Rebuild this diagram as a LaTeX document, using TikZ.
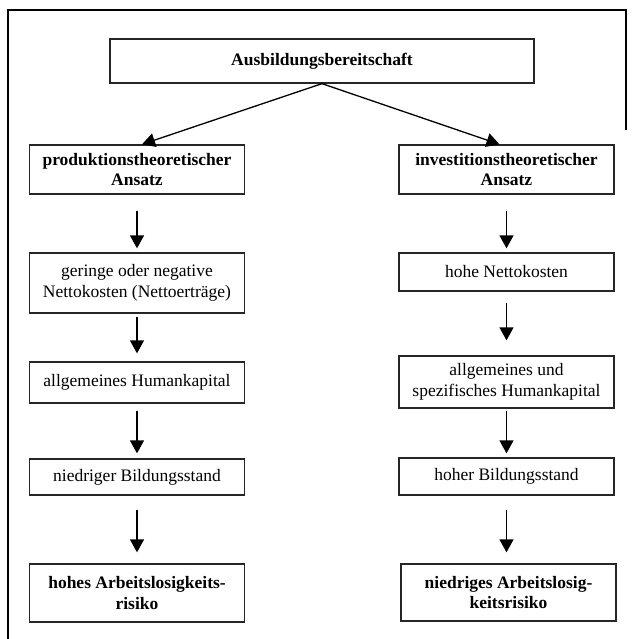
\documentclass[tikz,border=0pt]{standalone}
\usepackage{fontspec}
\setmainfont{Liberation Serif}
\usetikzlibrary{arrows.meta}
\begin{document}
\begin{tikzpicture}[x=1pt,y=-1pt,
  box/.style={draw=black!85, line width=1.3pt, minimum width=215pt, inner sep=0pt, align=center,
    font=\fontsize{17.5}{20.5}\selectfont},
  bbox/.style={box, font=\fontsize{17.5}{20.5}\selectfont\bfseries},
  arr/.style={line width=1.3pt, -{Triangle[length=13pt,width=14pt]}},
  frameline/.style={line width=1.5pt}]
\useasboundingbox (0,0) rectangle (634,639);
\draw[frameline] (8,645) -- (8,10) -- (626,10) -- (626,130);
\node[bbox, minimum width=424pt, minimum height=44pt] (top) at (322,61) {Ausbildungsbereitschaft};
% left column
\node[bbox, minimum height=49pt] (L1) at (137,169.5) {produktionstheoretischer\\Ansatz};
\node[box, minimum height=60pt] (L2) at (137,283) {geringe oder negative\\Nettokosten (Nettoerträge)};
\node[box, minimum height=41pt] (L3) at (137,382.5) {allgemeines Humankapital};
\node[box, minimum height=36pt] (L4) at (137,477) {niedriger Bildungsstand};
\node[bbox, minimum height=58pt] (L5) at (137,593) {hohes Arbeitslosigkeits-\\risiko};
% right column
\node[bbox, minimum height=49pt] (R1) at (506.5,169.5) {investitionstheoretischer\\Ansatz};
\node[box, minimum height=38pt] (R2) at (506.5,272) {hohe Nettokosten};
\node[box, minimum height=52pt] (R3) at (506.5,382) {allgemeines und\\spezifisches Humankapital};
\node[box, minimum height=37pt] (R4) at (506.5,476.5) {hoher Bildungsstand};
\node[bbox, minimum height=57pt] (R5) at (508.5,592.5) {niedriges Arbeitslosig-\\keitsrisiko};
% diagonal arrows
\draw[arr] (top.south) -- ([xshift=5pt]L1.north);
\draw[arr] (top.south) -- ([xshift=-7pt]R1.north);
% vertical arrows left
\draw[arr, shorten <=16pt, shorten >=4pt] (L1.south) -- (L2.north);
\draw[arr, shorten <=3pt, shorten >=8pt] (L2.south) -- (L3.north);
\draw[arr, shorten <=7pt, shorten >=5pt] (L3.south) -- (L4.north);
\draw[arr, shorten <=14pt, shorten >=11pt] (L4.south) -- (L5.north);
% vertical arrows right
\draw[arr, shorten <=16pt, shorten >=4pt] (R1.south) -- (R2.north);
\draw[arr, shorten <=11pt, shorten >=15pt] (R2.south) -- (R3.north);
\draw[arr, shorten <=2pt, shorten >=4pt] (R3.south) -- (R4.north);
\draw[arr, shorten <=14pt, shorten >=11pt] (R4.south) -- ([xshift=-2pt]R5.north);
\end{tikzpicture}
\end{document}
